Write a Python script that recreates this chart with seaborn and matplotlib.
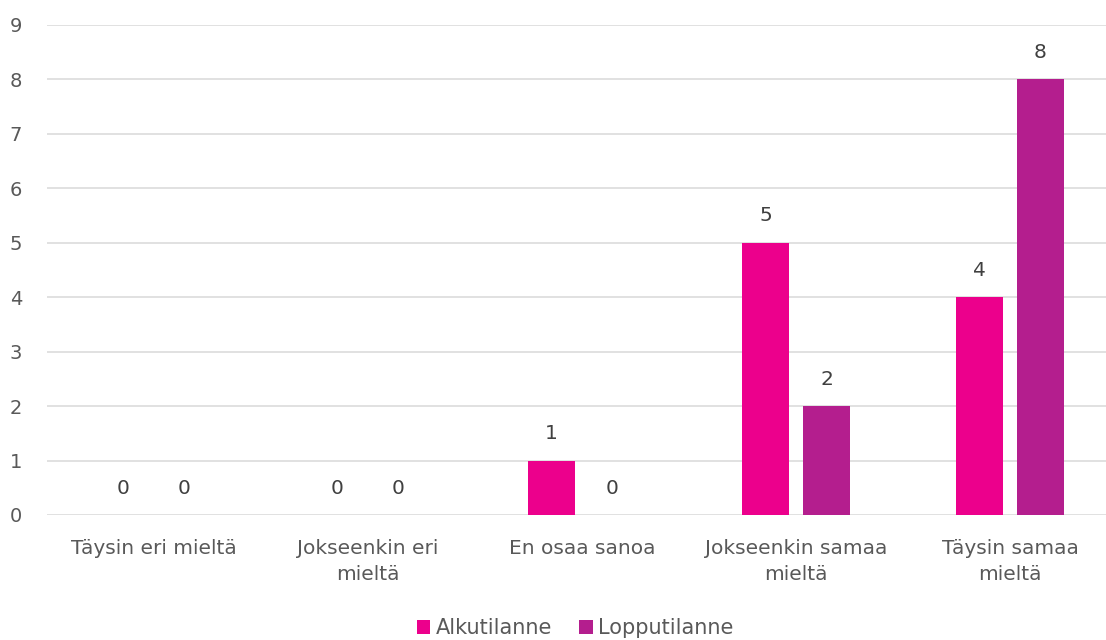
import matplotlib
matplotlib.use("Agg")
import matplotlib.pyplot as plt
import seaborn as sns
import pandas as pd

categories = ["Täysin eri mieltä", "Jokseenkin eri\nmieltä", "En osaa sanoa",
              "Jokseenkin samaa\nmieltä", "Täysin samaa\nmieltä"]
series_names = ["Alkutilanne", "Lopputilanne"]
alku = [0, 0, 1, 5, 4]
loppu = [0, 0, 0, 2, 8]
colors = ["#EC008C", "#B41E8E"]
yticks = list(range(0, 10))

df = pd.DataFrame({
    "kategoria": categories * 2,
    "sarja": [series_names[0]] * len(categories) + [series_names[1]] * len(categories),
    "arvo": alku + loppu,
})

sns.set_theme(style="white")
plt.rcParams['font.family'] = ['DejaVu Sans']

fig = plt.figure(figsize=(11.06, 6.4), dpi=100)
ax = fig.add_axes([47 / 1106, 125 / 640, 1070 / 1106, 490 / 640])

sns.barplot(data=df, x="kategoria", y="arvo", hue="sarja", order=categories,
            hue_order=series_names, palette=colors, width=0.57, gap=0.214,
            saturation=1, ax=ax, legend=True, linewidth=0)

ax.set_ylim(0, 9)
ax.set_yticks(yticks)
ax.yaxis.grid(True, color="#D9D9D9", linewidth=1.1)
ax.set_axisbelow(True)
for s in ax.spines.values():
    s.set_visible(False)
ax.tick_params(axis="y", length=0, pad=18, labelsize=14, labelcolor="#595959")
ax.tick_params(axis="x", length=0, pad=17, labelsize=14.5, labelcolor="#595959")
ax.set_xlabel("")
ax.set_ylabel("")
for lbl in ax.get_xticklabels():
    lbl.set_linespacing(1.5)

for cont in ax.containers:
    ax.bar_label(cont, fmt="%g", padding=12.5, fontsize=14.5, color="#404040")

handles, labels = ax.get_legend_handles_labels()
ax.legend_.remove()
fig.legend(handles, labels, loc="center", bbox_to_anchor=(0.52, 1 - 628 / 640),
           ncol=2, frameon=False, fontsize=15, handlelength=0.65, handleheight=0.65,
           handletextpad=0.25, columnspacing=1.3, labelcolor="#595959", borderaxespad=0)

fig.savefig("out.png", dpi=100)
